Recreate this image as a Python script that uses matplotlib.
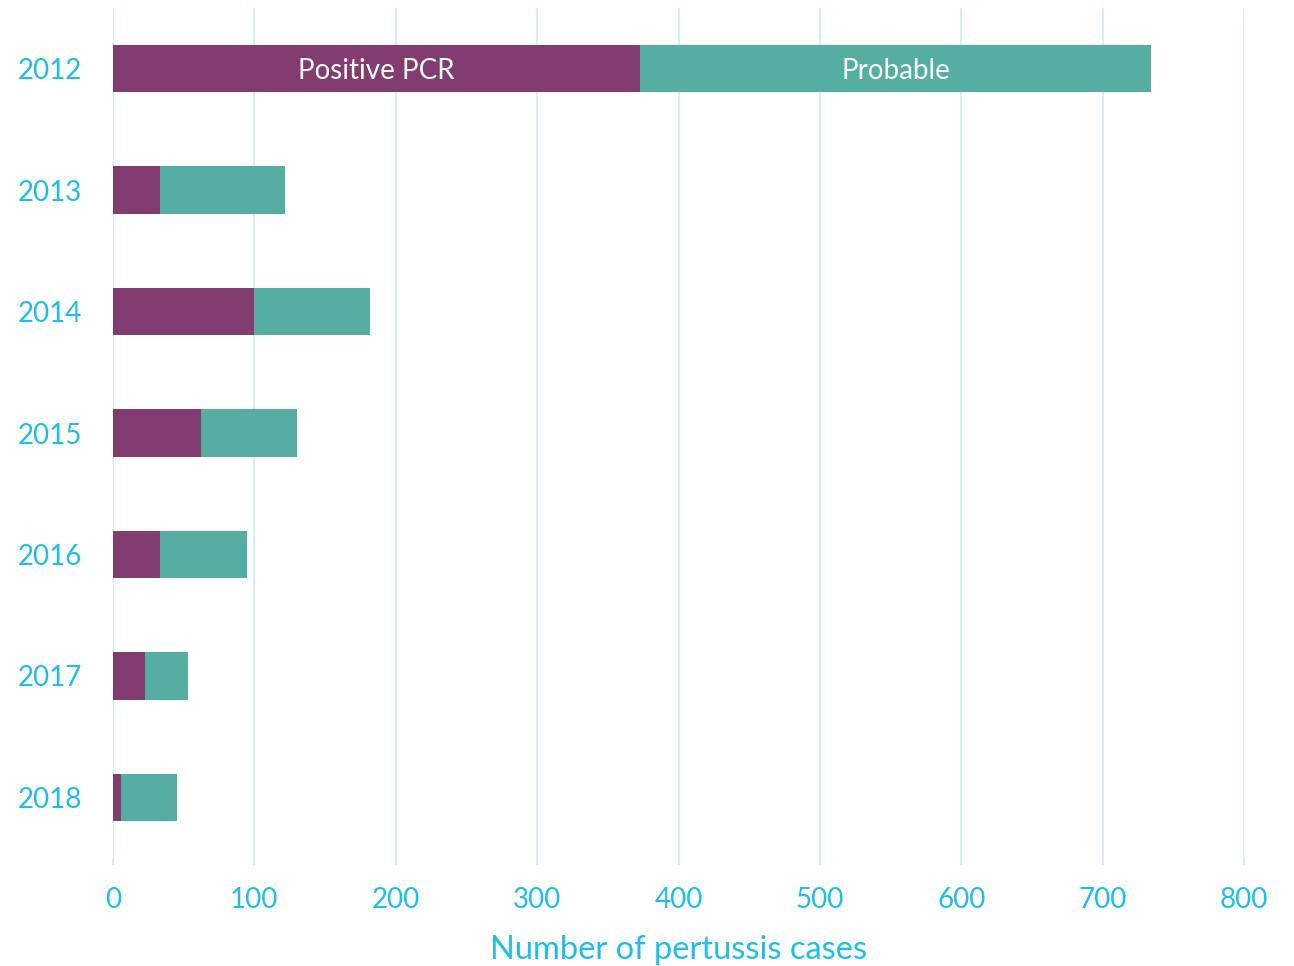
import matplotlib
matplotlib.use("Agg")
import matplotlib.pyplot as plt

years = ["2012", "2013", "2014", "2015", "2016", "2017", "2018"]
positive_pcr = [373, 33, 100, 62, 33, 23, 6]
probable = [361, 89, 82, 68, 62, 30, 39]
xticks = [0, 100, 200, 300, 400, 500, 600, 700, 800]

plt.rcParams['font.family'] = ['Lato', 'DejaVu Sans']

label_col = '#1EBEEA'
grid_col = '#D2EFF8'
purple = '#833C6F'
teal = '#56AEA3'

fig = plt.figure(figsize=(12.94, 9.66), dpi=100)
ax = fig.add_axes([0.0873, 0.1118, 0.9614 - 0.0873, 0.9917 - 0.1118])

ypos = list(range(len(years)))
h = 0.39
ax.barh(ypos, positive_pcr, height=h, color=purple, zorder=3)
ax.barh(ypos, probable, left=positive_pcr, height=h, color=teal, zorder=3)

ax.text(positive_pcr[0] / 2, 0.02, "Positive PCR", color='white', ha='center', va='center', fontsize=20, zorder=4)
ax.text(positive_pcr[0] + probable[0] / 2, 0.02, "Probable", color='white', ha='center', va='center', fontsize=20, zorder=4)

ax.set_xlim(0, 800)
ax.set_ylim(len(years) - 0.5, -0.5)
ax.set_yticks(ypos)
ax.set_yticklabels(years)
ax.set_xticks(xticks)
ax.set_xticklabels([str(t) for t in xticks])

for s in ax.spines.values():
    s.set_visible(False)

ax.grid(axis='x', color=grid_col, linewidth=1.5, zorder=0)
ax.tick_params(axis='y', length=0, pad=22, labelsize=20, labelcolor=label_col)
ax.tick_params(axis='x', length=5, width=1.5, color=grid_col, pad=16, labelsize=20, labelcolor=label_col)

ax.set_xlabel("Number of pertussis cases", fontsize=23.5, color=label_col, labelpad=16)

fig.savefig("out.png", dpi=100)
